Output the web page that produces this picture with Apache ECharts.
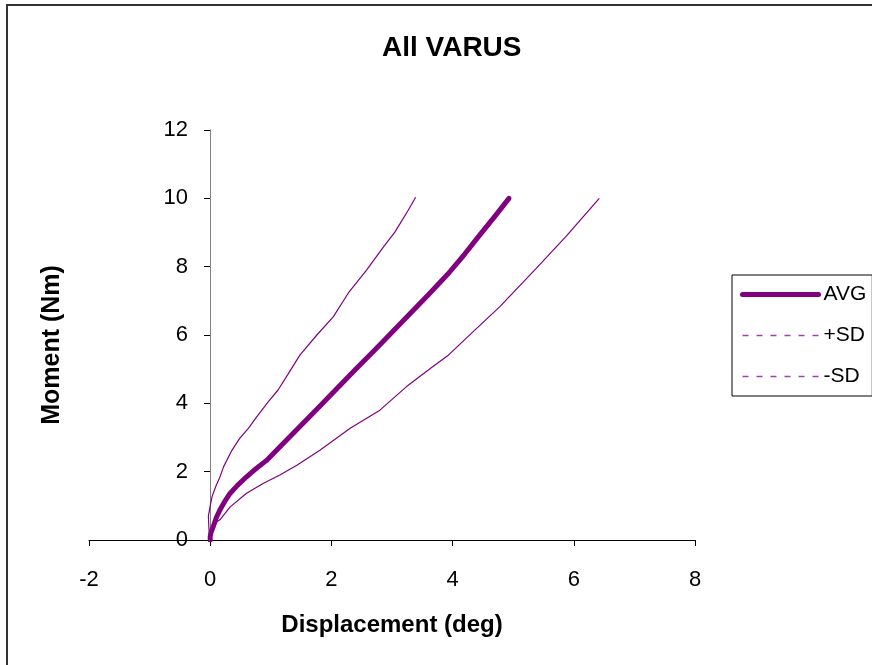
<!DOCTYPE html>
<html>
<head>
<meta charset="utf-8">
<script src="https://cdn.jsdelivr.net/npm/echarts@6/dist/echarts.min.js"></script>
<style>html,body{margin:0;padding:0;background:#fff;}#c{width:872px;height:665px;}</style>
</head>
<body>
<div id="c"></div>
<script>
// Data
var titleText = 'All VARUS';
var xTitle = 'Displacement (deg)';
var yTitle = 'Moment (Nm)';
var seriesNames = ['AVG', '+SD', '-SD'];

var avgX = [0, 0, 0.01, 0.05, 0.1, 0.16, 0.24, 0.33, 0.45, 0.6, 0.75, 0.93, 1.2, 1.48, 1.8, 2.1, 2.4, 2.7, 3.0, 3.3, 3.6, 3.93, 4.2, 4.45, 4.7, 4.93];
var avgY = [0, 0.1, 0.2, 0.39, 0.65, 0.88, 1.13, 1.37, 1.6, 1.85, 2.08, 2.33, 2.82, 3.32, 3.9, 4.45, 5.0, 5.53, 6.08, 6.63, 7.18, 7.8, 8.37, 8.93, 9.48, 10.0];

var plusX = [0, -0.02, -0.03, 0, 0.03, 0.1, 0.16, 0.22, 0.35, 0.49, 0.63, 0.77, 0.96, 1.12, 1.3, 1.48, 1.76, 2.03, 2.28, 2.58, 2.86, 3.05, 3.27, 3.39];
var plusY = [0, 0.3, 0.7, 1.0, 1.27, 1.6, 1.84, 2.14, 2.6, 2.98, 3.27, 3.61, 4.05, 4.39, 4.9, 5.41, 6.0, 6.53, 7.23, 7.9, 8.58, 9.02, 9.66, 10.03];

var minusX = [0, 0.05, 0.08, 0.16, 0.33, 0.6, 0.88, 1.15, 1.43, 1.81, 2.31, 2.8, 3.24, 3.67, 3.93, 4.34, 4.78, 5.38, 5.88, 6.42];
var minusY = [0, 0.38, 0.5, 0.59, 0.97, 1.37, 1.66, 1.9, 2.19, 2.63, 3.27, 3.8, 4.49, 5.07, 5.41, 6.1, 6.83, 7.95, 8.9, 10.0];

function pairs(xs, ys) { return xs.map(function (x, i) { return [x, ys[i]]; }); }

var FONT = 'Liberation Sans, Arial, Helvetica, sans-serif';
var PURPLE = '#800080';
var HIDE = { color: 'transparent', borderColor: 'transparent', borderWidth: 0, opacity: 0 };

var chart = echarts.init(document.getElementById('c'), null, { renderer: 'canvas' });
chart.setOption({
  backgroundColor: '#fff',
  animation: false,
  graphic: [{
    type: 'rect', shape: { x: 7, y: 5, width: 900, height: 700 },
    style: { fill: 'none', stroke: '#333', lineWidth: 2 }, silent: true, z: 100
  }],
  title: {
    text: titleText, left: 377, top: 29,
    textStyle: { fontFamily: FONT, fontSize: 28, fontWeight: 'bold', color: '#000' }
  },
  grid: { left: 89, right: 177, top: 130, bottom: 125, containLabel: false, outerBoundsMode: 'none' },
  xAxis: {
    type: 'value', min: -2, max: 8, interval: 2,
    name: xTitle, nameLocation: 'middle', nameGap: 73,
    nameTextStyle: { fontFamily: FONT, fontSize: 24, fontWeight: 'bold', color: '#000' },
    axisLine: { onZero: false, lineStyle: { color: '#000', width: 1 } },
    axisTick: { show: true, inside: false, length: 6, lineStyle: { color: '#000' } },
    axisLabel: { fontFamily: FONT, fontSize: 22, color: '#000', margin: 29 },
    splitLine: { show: false }
  },
  yAxis: {
    type: 'value', min: 0, max: 12, interval: 2, position: 'left', offset: -121,
    name: yTitle, nameLocation: 'middle', nameGap: 145, nameRotate: 90,
    nameTextStyle: { fontFamily: FONT, fontSize: 25, fontWeight: 'bold', color: '#000', padding: [0, 20, 0, 0] },
    axisLine: { show: true, onZero: false, lineStyle: { color: '#808080', width: 1 } },
    axisTick: { show: true, inside: false, length: 6, lineStyle: { color: '#000' } },
    axisLabel: { fontFamily: FONT, fontSize: 22, color: '#000', margin: 22 },
    splitLine: { show: false }
  },
  legend: {
    orient: 'vertical', left: 732, top: 275,
    backgroundColor: '#fff', borderColor: '#000', borderWidth: 1,
    padding: [9, 6, 9, 8],
    itemWidth: 76, itemHeight: 14, itemGap: 20,
    textStyle: { fontFamily: FONT, fontSize: 21, color: '#000', padding: [0, 0, 0, 0] },
    data: [
      { name: seriesNames[0], itemStyle: HIDE, lineStyle: { color: PURPLE, width: 5, cap: 'round' } },
      { name: seriesNames[1], itemStyle: HIDE, lineStyle: { color: '#a040b0', width: 1.5, type: [6, 8] } },
      { name: seriesNames[2], itemStyle: HIDE, lineStyle: { color: '#a040b0', width: 1.5, type: [6, 8] } }
    ]
  },
  series: [
    { name: seriesNames[0], type: 'line', data: pairs(avgX, avgY), symbol: 'none', showSymbol: false,
      lineStyle: { color: PURPLE, width: 5, cap: 'round', join: 'round' }, itemStyle: { color: PURPLE }, z: 3 },
    { name: seriesNames[1], type: 'line', data: pairs(plusX, plusY), symbol: 'none', showSymbol: false,
      lineStyle: { color: PURPLE, width: 1.2 }, itemStyle: { color: PURPLE }, z: 2 },
    { name: seriesNames[2], type: 'line', data: pairs(minusX, minusY), symbol: 'none', showSymbol: false,
      lineStyle: { color: PURPLE, width: 1.2 }, itemStyle: { color: PURPLE }, z: 2 }
  ]
});
</script>
</body>
</html>
